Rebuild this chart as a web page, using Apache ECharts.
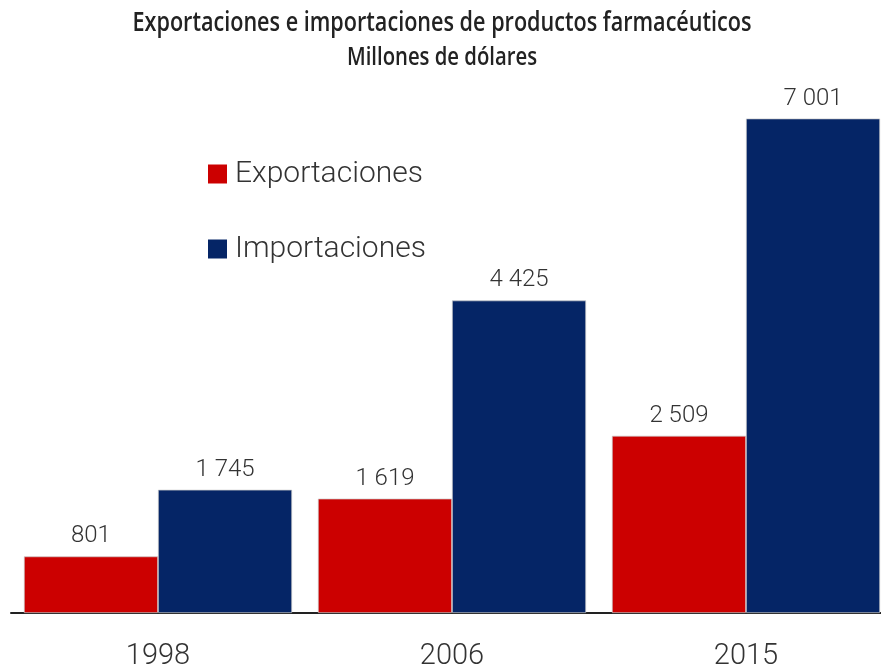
<!DOCTYPE html>
<html>
<head>
<meta charset="UTF-8">
<title>Exportaciones e importaciones</title>
<script type="text/javascript" src="https://cdn.jsdelivr.net/npm/echarts@6/dist/echarts.min.js"></script>
<style>
  html, body { margin: 0; padding: 0; background: #fff; }
</style>
</head>
<body>
	<div id="main" style="height:668px;width:881px"></div>
<script type="text/javascript">
var years = ['1998', '2006', '2015'];
var exportaciones = [801, 1619, 2509];
var importaciones = [1745, 4425, 7001];
var titulo = 'Exportaciones e importaciones de productos farmacéuticos';
var subtitulo = 'Millones de dólares';

function miles(v) {
  return String(v).replace(/\B(?=(\d{3})+(?!\d))/g, ' ');
}

var myChart = echarts.init(document.getElementById('main'));

var labelStyle = {
  show: true,
  position: 'top',
  distance: 8,
  fontFamily: 'Roboto',
  fontWeight: 300,
  fontSize: 24,
  color: '#333',
  formatter: function (p) { return miles(p.value); }
};

// titulo en fuente condensada: se comprime en horizontal
var tituloStyle = {
  fontFamily: 'Open Sans',
  fontWeight: 600,
  fontSize: 27,
  fill: '#222',
  textAlign: 'center',
  textVerticalAlign: 'middle'
};

var option = {
  animation: false,
  graphic: [
    {
      type: 'text',
      x: 442,
      y: 23,
      scaleX: 0.8,
      style: Object.assign({ text: titulo }, tituloStyle)
    },
    {
      type: 'text',
      x: 442,
      y: 58,
      scaleX: 0.78,
      style: Object.assign({ text: subtitulo }, tituloStyle, { fontSize: 26 })
    }
  ],
  legend: {
    orient: 'vertical',
    left: 203,
    top: 154,
    itemWidth: 19,
    itemHeight: 19,
    itemGap: 45,
    icon: 'rect',
    itemStyle: { borderWidth: 0 },
    textStyle: {
      fontFamily: 'Roboto',
      fontWeight: 300,
      fontSize: 30,
      color: '#333',
      padding: [0, 0, 0, 3]
    },
    data: ['Exportaciones', 'Importaciones']
  },
  grid: {
    left: 11,
    width: 882,
    top: 48,
    bottom: 55,
    outerBoundsMode: 'none',
    containLabel: false
  },
  xAxis: {
    type: 'category',
    data: years,
    axisLine: { lineStyle: { color: '#222', width: 2 } },
    axisTick: { show: false },
    axisLabel: {
      margin: 29,
      fontFamily: 'Roboto',
      fontWeight: 300,
      fontSize: 29,
      color: '#333'
    }
  },
  yAxis: {
    type: 'value',
    min: 0,
    max: 8000,
    show: false,
    splitLine: { show: false }
  },
  series: [
    {
      name: 'Exportaciones',
      type: 'bar',
      data: exportaciones,
      barGap: '0%',
      barCategoryGap: '8.8%',
      itemStyle: { color: '#cc0000', borderColor: '#c8c8c8', borderWidth: 0.7 },
      label: labelStyle
    },
    {
      name: 'Importaciones',
      type: 'bar',
      data: importaciones,
      barGap: '0%',
      barCategoryGap: '8.8%',
      itemStyle: { color: '#052566', borderColor: '#c8c8c8', borderWidth: 0.7 },
      label: labelStyle
    }
  ]
};

myChart.setOption(option);
</script>
</body>
</html>
